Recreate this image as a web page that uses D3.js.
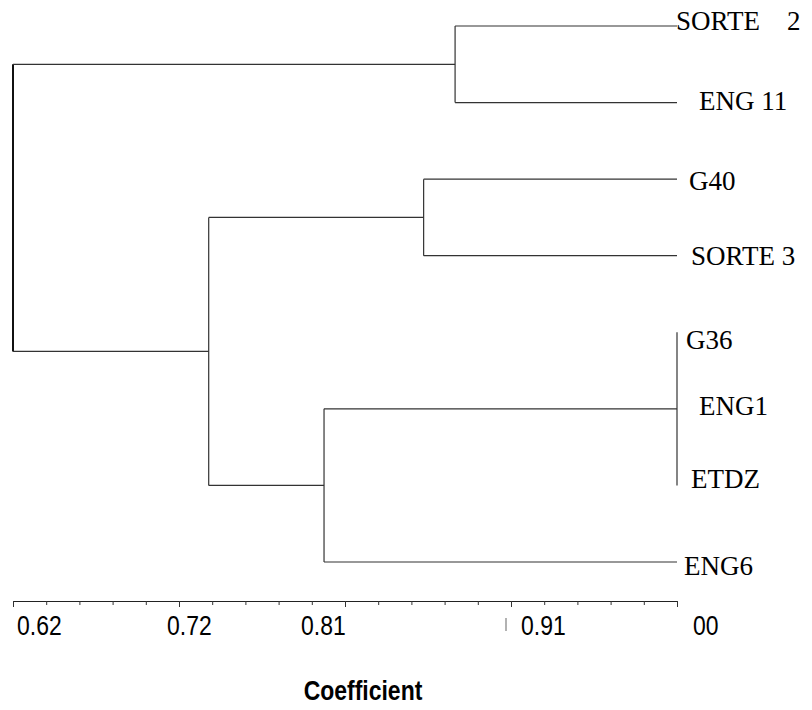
<!DOCTYPE html>
<html>
<head>
<meta charset="utf-8">
<script src="https://cdn.jsdelivr.net/npm/d3@7"></script>
<style>
	body { margin: 0; background: #fff; }
	svg { display: block; }
	.leaf { font-family: "Liberation Serif", "Times New Roman", serif; font-size: 27px; white-space: pre; }
	.tick-label, .axis-title { font-family: "Liberation Sans", Arial, sans-serif; }
</style>
</head>
<body>
<div id="plot"></div>
<script>
// leaves, top to bottom
var leaves = ["SORTE    2", "ENG 11", "G40", "SORTE 3", "G36", "ENG1", "ETDZ", "ENG6"];

// clusters: members (leaf or cluster id) and the coefficient they join at
var clusterIds     = ["c1", "c2", "c3", "c4", "c5", "root"];
var clusterMembers = [["G36", "ENG1", "ETDZ"], ["SORTE    2", "ENG 11"], ["G40", "SORTE 3"], ["c1", "ENG6"], ["c3", "c4"], ["c2", "c5"]];
var clusterCoef    = [1.00, 0.873, 0.855, 0.798, 0.732, 0.62];

// axis
var majorTicks = [0.62, 0.715, 0.81, 0.905, 1.00];
var tickLabels = ["0.62", "0.72", "0.81", "0.91", "00"];

// label nudges (layout only)
var leafShift  = [-1, 22, 12, 14, 9, 22, 14, 7];
var leafDy     = [-5, -1, 2, 0, 8, -3, -6, 4];
var tickShift  = [4, -12, -44, 10, 16];

var svg = d3.select("#plot").append("svg")
	.attr("width", 812)
	.attr("height", 710);

var x = d3.scaleLinear().domain([0.62, 1.00]).range([13, 677]);
var y = d3.scalePoint().domain(leaves).range([26, 562]);

// node positions
var pos = {};
leaves.forEach(function(l){ pos[l] = {x: x(1.00), y: y(l)}; });
clusterIds.forEach(function(id, i){
	var m = clusterMembers[i];
	var y0 = pos[m[0]].y, y1 = pos[m[m.length - 1]].y;
	pos[id] = {x: x(clusterCoef[i]), y: (y0 + y1) / 2, y0: y0, y1: y1};
});

var g = svg.append("g")
	.attr("fill", "none")
	.attr("stroke", "#333")
	.attr("stroke-width", 1.2);

clusterIds.forEach(function(id, i){
	var p = pos[id];
	g.append("line")
		.attr("x1", p.x).attr("x2", p.x)
		.attr("y1", p.y0).attr("y2", p.y1)
		.attr("stroke-width", id === "root" ? 2 : 1.2)
		.attr("stroke", id === "root" ? "#111" : null);
	clusterMembers[i].forEach(function(c){
		if (pos[c].x === p.x) return;
		g.append("line")
			.attr("x1", p.x).attr("x2", pos[c].x)
			.attr("y1", pos[c].y).attr("y2", pos[c].y);
	});
});

svg.selectAll("text.leaf").data(leaves).enter().append("text")
	.attr("class", "leaf")
	.attr("x", function(d, i){ return x(1.00) + leafShift[i]; })
	.attr("y", function(d, i){ return y(d) + leafDy[i]; })
	.attr("dy", "0.33em")
	.text(function(d){ return d; });

// axis with 4 minor ticks between majors
var allTicks = [];
majorTicks.forEach(function(t, i){
	allTicks.push(t);
	if (i < majorTicks.length - 1) {
		var step = (majorTicks[i + 1] - t) / 5;
		for (var k = 1; k < 5; k++) allTicks.push(t + step * k);
	}
});

var axis = svg.append("g")
	.attr("transform", "translate(0,601)")
	.call(d3.axisBottom(x).tickValues(allTicks).tickSizeOuter(0).tickFormat(""));

axis.select(".domain").attr("stroke", "#222");
axis.selectAll(".tick line")
	.attr("stroke", "#333")
	.attr("y2", function(d){ return majorTicks.some(function(m){ return Math.abs(m - d) < 1e-6; }) ? 6 : 4; });

// narrow sans: squeeze horizontally
svg.selectAll("text.tick-label").data(tickLabels).enter().append("text")
	.attr("class", "tick-label")
	.attr("transform", function(d, i){
		return "translate(" + (x(majorTicks[i]) + tickShift[i]) + ",635) scale(0.82,1)";
	})
	.attr("font-size", 28)
	.text(function(d){ return d; });

// stray mark left of 0.91
svg.append("line")
	.attr("x1", x(0.905) - 5).attr("x2", x(0.905) - 5)
	.attr("y1", 618).attr("y2", 631)
	.attr("stroke", "#999").attr("stroke-width", 1.5);

svg.append("text")
	.attr("class", "axis-title")
	.attr("transform", "translate(363,700) scale(0.82,1)")
	.attr("text-anchor", "middle")
	.attr("font-size", 28)
	.attr("font-weight", "bold")
	.text("Coefficient");
</script>
</body>
</html>
